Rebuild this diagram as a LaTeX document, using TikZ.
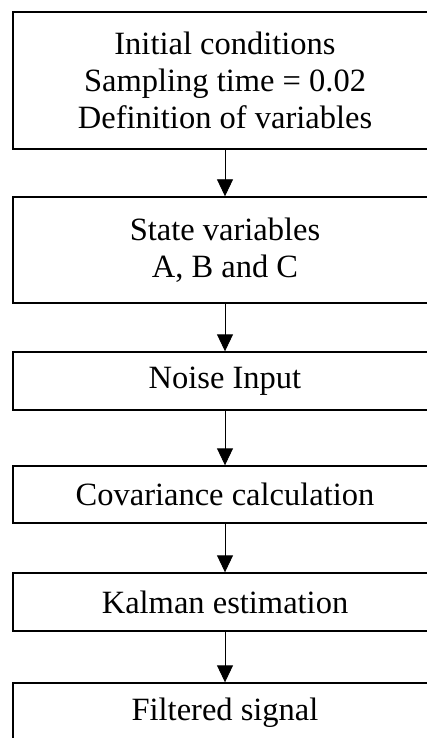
\documentclass[tikz,border=0pt]{standalone}
\usepackage{fontspec}
\setmainfont{Liberation Serif}
\usetikzlibrary{arrows.meta}
\begin{document}
\begin{tikzpicture}[x=1pt,y=-1pt,
  box/.style={draw=black, line width=1.4pt, rectangle, minimum width=424pt, inner sep=0pt,
    align=center, font=\fontsize{32.5}{37}\selectfont},
  conn/.style={line width=0.9pt, -{Triangle[length=17pt,width=16pt]}}]
\useasboundingbox (0,0) rectangle (426,738);
\node[box, minimum height=137pt] (b1) at (225,80.5) {Initial conditions\\Sampling time = 0.02\\Definition of variables};
\node[box, minimum height=106pt] (b2) at (225,250) {State variables\\A, B and C};
\node[box, minimum height=58pt] (b3) at (225,381) {Noise Input};
\node[box, minimum height=57pt] (b4) at (225,494.5) {Covariance calculation};
\node[box, minimum height=58pt] (b5) at (225,602) {Kalman estimation};
\node[box, minimum height=60pt] (b6) at (225,713) {Filtered signal};
\draw[conn] (b1) -- (b2);
\draw[conn] (b2) -- (b3);
\draw[conn] (b3) -- (b4);
\draw[conn] (b4) -- (b5);
\draw[conn] (b5) -- (b6);
\end{tikzpicture}
\end{document}
